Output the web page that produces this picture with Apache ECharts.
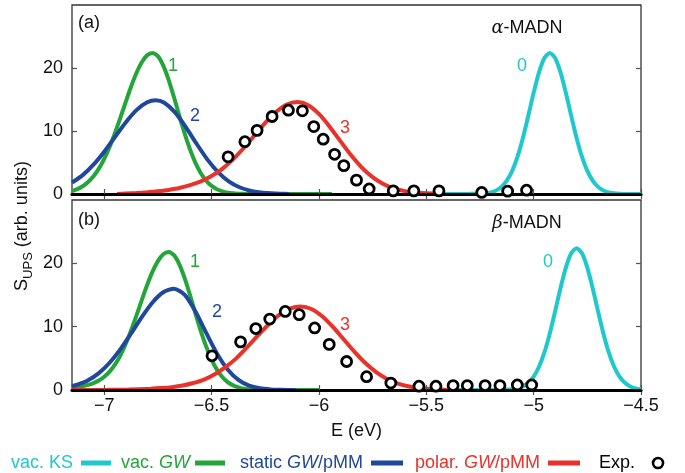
<!DOCTYPE html>
<html><head><meta charset="utf-8">
<script src="https://cdn.jsdelivr.net/npm/echarts@6/dist/echarts.min.js"></script>
<style>html,body{margin:0;padding:0;background:#fff}#c{width:685px;height:473px}</style>
</head><body><div id="c"></div>
<script>
// ---- tick labels / names ----
const xTicks = [-7, -6.5, -6, -5.5, -5, -4.5];
const yTicks = [0, 10, 20];
const names = ['vac. KS', 'vac. GW', 'static GW/pMM', 'polar. GW/pMM', 'Exp.'];

// ---- panel (a) alpha-MADN ----
const ksA = [[-5.45,0],[-5.3,0.02],[-5.25,0.05],[-5.225,0.11],[-5.2,0.26],[-5.175,0.56],[-5.15,1.13],[-5.125,2.11],[-5.1,3.67],[-5.075,5.93],[-5.05,8.9],[-5.025,12.41],[-5.0,16.07],[-4.975,19.32],[-4.95,21.59],[-4.925,22.4],[-4.9,21.59],[-4.875,19.32],[-4.85,16.07],[-4.825,12.41],[-4.8,8.9],[-4.775,5.93],[-4.75,3.67],[-4.725,2.11],[-4.7,1.13],[-4.675,0.56],[-4.65,0.26],[-4.625,0.11],[-4.6,0.05],[-4.55,0],[-4.5,0]];
const gwA = [[-7.15,0.47],[-7.125,0.78],[-7.1,1.23],[-7.075,1.9],[-7.05,2.81],[-7.025,4.03],[-7.0,5.59],[-6.975,7.47],[-6.95,9.67],[-6.925,12.08],[-6.9,14.59],[-6.875,17.03],[-6.85,19.2],[-6.825,20.91],[-6.8,22.02],[-6.775,22.4],[-6.75,21.88],[-6.725,20.38],[-6.7,18.11],[-6.675,15.35],[-6.65,12.41],[-6.625,9.57],[-6.6,7.04],[-6.575,4.94],[-6.55,3.3],[-6.525,2.11],[-6.5,1.28],[-6.475,0.75],[-6.45,0.42],[-6.425,0.22],[-6.4,0.11],[-6.375,0.05],[-6.35,0.02],[-6.3,0],[-5.94,0]];
const staticA = [[-7.15,1.81],[-7.1,3.0],[-7.05,4.65],[-7.0,6.71],[-6.95,9.04],[-6.9,11.36],[-6.85,13.32],[-6.8,14.57],[-6.76,14.9],[-6.72,14.49],[-6.67,12.95],[-6.62,10.61],[-6.57,7.98],[-6.52,5.5],[-6.47,3.48],[-6.42,2.02],[-6.37,1.07],[-6.32,0.52],[-6.27,0.23],[-6.22,0.1],[-6.18,0.04],[-6.14,0]];
const polarA = [[-6.94,0],[-6.9,0.07],[-6.85,0.16],[-6.8,0.27],[-6.75,0.42],[-6.7,0.65],[-6.65,0.95],[-6.6,1.4],[-6.55,2.0],[-6.5,2.85],[-6.45,4.0],[-6.4,5.5],[-6.35,7.3],[-6.3,9.3],[-6.25,11.3],[-6.2,13.0],[-6.15,14.2],[-6.1,14.6],[-6.05,14.1],[-6.0,12.71],[-5.95,10.69],[-5.9,8.39],[-5.85,6.14],[-5.8,4.2],[-5.75,2.68],[-5.7,1.59],[-5.65,0.88],[-5.6,0.46],[-5.55,0.22],[-5.5,0.1],[-5.45,0.04],[-5.44,0]];
const expA = [[-6.423,5.9],[-6.345,8.3],[-6.288,10.1],[-6.218,12.3],[-6.142,13.3],[-6.077,13.2],[-6.024,10.7],[-5.98,8.7],[-5.927,6.3],[-5.884,4.5],[-5.825,2.2],[-5.766,0.8],[-5.654,0.5],[-5.558,0.5],[-5.441,0.5],[-5.242,0.25],[-5.121,0.45],[-5.033,0.6]];

// ---- panel (b) beta-MADN ----
const ksB = [[-5.4,0],[-5.2,0.01],[-5.15,0.03],[-5.125,0.06],[-5.1,0.11],[-5.075,0.26],[-5.05,0.56],[-5.025,1.13],[-5.0,2.11],[-4.975,3.67],[-4.95,5.93],[-4.925,8.9],[-4.9,12.41],[-4.875,16.07],[-4.85,19.32],[-4.825,21.59],[-4.8,22.4],[-4.775,21.59],[-4.75,19.32],[-4.725,16.07],[-4.7,12.41],[-4.675,8.9],[-4.65,5.93],[-4.625,3.67],[-4.6,2.11],[-4.575,1.13],[-4.55,0.56],[-4.525,0.26],[-4.5,0.11]];
const gwB = [[-7.15,0.3],[-7.125,0.45],[-7.1,0.6],[-7.075,0.8],[-7.05,1.1],[-7.025,1.5],[-7.0,2.1],[-6.975,2.9],[-6.95,4.0],[-6.925,5.44],[-6.9,7.27],[-6.875,9.41],[-6.85,11.75],[-6.825,14.2],[-6.8,16.57],[-6.775,18.68],[-6.75,20.35],[-6.725,21.43],[-6.7,21.8],[-6.675,21.29],[-6.65,19.83],[-6.625,17.62],[-6.6,14.94],[-6.575,12.07],[-6.55,9.31],[-6.525,6.85],[-6.5,4.81],[-6.475,3.21],[-6.45,2.05],[-6.425,1.25],[-6.4,0.73],[-6.375,0.41],[-6.35,0.21],[-6.325,0.1],[-6.3,0.05],[-6.25,0.01],[-6.2,0],[-6.0,0]];
const staticB = [[-7.15,0.59],[-7.125,0.83],[-7.075,1.55],[-7.025,2.67],[-6.975,4.3],[-6.925,6.42],[-6.875,8.92],[-6.825,11.52],[-6.775,13.82],[-6.725,15.43],[-6.675,16.0],[-6.625,15.01],[-6.575,12.4],[-6.525,9.01],[-6.475,5.77],[-6.425,3.25],[-6.375,1.61],[-6.325,0.7],[-6.275,0.27],[-6.225,0.09],[-6.18,0.03],[-6.15,0],[-6.11,0]];
const polarB = [[-7.15,0],[-6.985,0.03],[-6.885,0.08],[-6.785,0.2],[-6.735,0.3],[-6.685,0.45],[-6.635,0.7],[-6.585,1.1],[-6.535,1.65],[-6.485,2.5],[-6.435,3.6],[-6.385,4.99],[-6.335,6.72],[-6.285,8.57],[-6.235,10.35],[-6.185,11.85],[-6.135,12.85],[-6.085,13.2],[-6.035,12.79],[-5.985,11.65],[-5.935,9.97],[-5.885,8.01],[-5.835,6.05],[-5.785,4.29],[-5.735,2.86],[-5.685,1.79],[-5.635,1.05],[-5.585,0.58],[-5.535,0.3],[-5.485,0.15],[-5.435,0.07],[-5.4,0]];
const expB = [[-6.498,5.4],[-6.365,7.6],[-6.294,9.7],[-6.229,11.2],[-6.157,12.4],[-6.092,11.9],[-6.02,9.8],[-5.952,7.2],[-5.871,4.5],[-5.778,2.1],[-5.665,1.1],[-5.534,0.6],[-5.455,0.6],[-5.375,0.7],[-5.309,0.7],[-5.226,0.7],[-5.157,0.7],[-5.076,0.8],[-5.009,0.8]];

const C = {ks:'#1ec8cc', gw:'#23a53a', st:'#1f479b', po:'#e8322a', ex:'#000'};
const FONT = 'Liberation Sans';
const FS = 18;

const chart = echarts.init(document.getElementById('c'), null, {renderer:'canvas'});

const grids = [
  {left:72, right:44, top:5, height:189, show:true, borderColor:'#333', borderWidth:1.3},
  {left:72, right:44, top:200, height:190, show:true, borderColor:'#333', borderWidth:1.3}
];
const fmtX = v => (v < 0 ? '\u2212' + Math.abs(v) : String(v));
const xAxes = [], yAxes = [];
[0,1].forEach(g => {
  xAxes.push({type:'value', gridIndex:g, min:-7.15, max:-4.5, position:'bottom', z:3,
    axisLine:{show:true, onZero:false, lineStyle:{color:'#000', width:3.2}},
    axisTick:{show:true, inside:true, length:5, customValues:xTicks, lineStyle:{color:'#555', width:1.2}},
    axisLabel:{show:g===1, customValues:xTicks, formatter:fmtX, fontSize:FS, fontFamily:FONT, color:'#111', margin:7},
    splitLine:{show:false},
    name: g===1 ? 'E (eV)' : '', nameLocation:'middle', nameGap:32,
    nameTextStyle:{fontSize:FS, fontFamily:FONT, color:'#111'}});
  xAxes.push({type:'value', gridIndex:g, min:-7.15, max:-4.5, position:'top',
    axisLine:{show:false}, axisLabel:{show:false},
    axisTick:{show:true, inside:true, length:5, customValues:xTicks, lineStyle:{color:'#555', width:1.2}},
    splitLine:{show:false}});
  yAxes.push({type:'value', gridIndex:g, min:0, max:30, position:'left',
    axisLine:{show:false},
    axisTick:{show:true, inside:true, length:5, customValues:yTicks, lineStyle:{color:'#555', width:1.2}},
    axisLabel:{customValues:yTicks, fontSize:FS, fontFamily:FONT, color:'#111', margin:9},
    splitLine:{show:false}});
  yAxes.push({type:'value', gridIndex:g, min:0, max:30, position:'right',
    axisLine:{show:false}, axisLabel:{show:false},
    axisTick:{show:true, inside:true, length:5, customValues:yTicks, lineStyle:{color:'#555', width:1.2}},
    splitLine:{show:false}});
});

function lineS(name, data, color, g){
  return {type:'line', name, data, xAxisIndex:g*2, yAxisIndex:g*2, smooth:0.25,
    showSymbol:false, symbol:'none', lineStyle:{color, width:4}, itemStyle:{color}, z:2, silent:true, animation:false};
}
function expS(data, g){
  return {type:'scatter', name:names[4], data, xAxisIndex:g*2, yAxisIndex:g*2, symbol:'circle', symbolSize:10,
    itemStyle:{color:'#fff', borderColor:'#000', borderWidth:2.8, opacity:1}, z:5, animation:false};
}
const series = [];
[[ksA,gwA,staticA,polarA,expA],[ksB,gwB,staticB,polarB,expB]].forEach((d,g)=>{
  series.push(lineS(names[1], d[1], C.gw, g));
  series.push(lineS(names[2], d[2], C.st, g));
  series.push(lineS(names[3], d[3], C.po, g));
  series.push(lineS(names[0], d[0], C.ks, g));
  series.push(expS(d[4], g));
});

function legendItem(name, left, color, fmt, icon, w, h, style){
  return {data:[name], left, top:449, orient:'horizontal', align:'right', icon, itemWidth:w, itemHeight:h,
    selectedMode:false, formatter: fmt, itemStyle: style, lineStyle:{color, width:0},
    textStyle:{color, fontSize:FS, fontFamily:FONT,
      rich:{r:{color, fontSize:FS, fontFamily:FONT}, i:{color, fontSize:FS, fontFamily:FONT, fontStyle:'italic'},
            e:{color, fontSize:FS, fontFamily:FONT, padding:[0,3,0,0]}}}};
}
const lineIcon = c => ({color:c, borderWidth:0, opacity:1});
const legends = [
  legendItem(names[0], 6, C.ks, '{e|vac. KS}', 'rect', 30, 5, lineIcon(C.ks)),
  legendItem(names[1], 116, C.gw, '{r|vac. }{i|GW}', 'rect', 30, 5, lineIcon(C.gw)),
  legendItem(names[2], 235, C.st, '{r|static }{i|GW}{e|/pMM}', 'rect', 32, 5, lineIcon(C.st)),
  legendItem(names[3], 410, C.po, '{r|polar. }{i|GW}{e|/pMM}', 'rect', 32, 5, lineIcon(C.po)),
  legendItem(names[4], 594, '#000', '{r|Exp.}', 'circle', 36, 10, {color:'#fff', borderColor:'#000', borderWidth:2.6, opacity:1})
];

function txt(x, y, text, color, extra){
  return Object.assign({type:'text', x, y, silent:true, z:10,
    style:Object.assign({text, fill:color, fontSize:FS, fontFamily:FONT, align:'center', verticalAlign:'middle'}, extra||{})});
}
const greekRich = {g:{fontFamily:'DejaVu Serif', fontStyle:'italic', fontSize:FS, fill:'#111'}, t:{fontSize:FS, fontFamily:FONT, fill:'#111'}};
const graphics = [
  txt(89, 23, '(a)', '#111'),
  txt(527, 28, '{g|α}{t|-MADN}', '#111', {rich:greekRich}),
  txt(173, 66, '1', C.gw), txt(195, 116, '2', C.st), txt(345, 128, '3', C.po), txt(522, 66, '0', C.ks),
  txt(89, 220, '(b)', '#111'),
  txt(527, 223, '{g|β}{t|-MADN}', '#111', {rich:greekRich}),
  txt(195, 262, '1', C.gw), txt(217, 312, '2', C.st), txt(345, 325, '3', C.po), txt(548, 262, '0', C.ks),
  {type:'text', x:24, y:226, rotation:Math.PI/2, silent:true, z:10,
   style:{text:'{a|S}{s|UPS}{a| (arb. units)}', align:'center', verticalAlign:'middle',
     rich:{a:{fontSize:FS, fontFamily:FONT, fill:'#111', verticalAlign:'top'},
           s:{fontSize:13, fontFamily:FONT, fill:'#111', verticalAlign:'top', padding:[9,0,0,0]}}}}
];

chart.setOption({
  animation:false,
  backgroundColor:'#fff',
  grid:grids, xAxis:xAxes, yAxis:yAxes, series, legend:legends, graphic:graphics
});
</script></body></html>
